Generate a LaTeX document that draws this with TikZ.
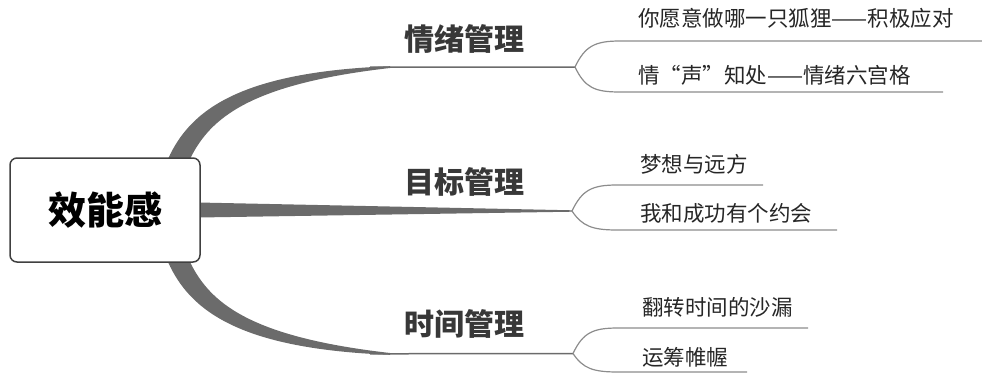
\documentclass[tikz,border=0pt]{standalone}
\usepackage{fontspec}
\newfontfamily\cjk{Noto Sans CJK SC}
\begin{document}
\begin{tikzpicture}[x=1pt,y=-1pt,
  rootbox/.style={draw=black!75, line width=1.5pt, rounded corners=7pt, fill=white,
    minimum width=190pt, minimum height=104pt, inner sep=0pt,
    font=\cjk\bfseries\fontsize{38}{40}\selectfont},
  branchlbl/.style={font=\cjk\bfseries\fontsize{30}{32}\selectfont, text=black!78, inner sep=0pt},
  leaflbl/.style={font=\cjk\fontsize{21.5}{23}\selectfont, text=black!85, inner sep=0pt, anchor=west},
  taper/.style={fill=black!58},
  thinbranch/.style={draw=black!58, line width=1.5pt},
  leafline/.style={draw=black!45, line width=1.2pt}]
\useasboundingbox (0,0) rectangle (982,378);

% fork points and line ends
\coordinate (f1) at (575,67);
\coordinate (f2) at (572,211);
\coordinate (f3) at (573,353.5);
\coordinate (e11) at (982,41);
\coordinate (e12) at (943,92);
\coordinate (e21) at (763,185);
\coordinate (e22) at (837,230);
\coordinate (e31) at (808,328);
\coordinate (e32) at (747,372);

% tapered branches
\fill[taper] (168,159) .. controls (190,110) and (240,72) .. (390,66.2)
  -- (390,68) .. controls (250,84) and (210,118) .. (190,159) -- cycle;
\fill[taper] (198,202.5) -- (572,210.3) -- (572,211.7) -- (198,217.5) -- cycle;
\fill[taper] (168,262) .. controls (190,311) and (240,349) .. (390,354.8)
  -- (390,353) .. controls (250,337) and (210,303) .. (190,262) -- cycle;
\draw[thinbranch] (370,67.2) -- (f1);
\draw[thinbranch] (370,353.8) -- (f3);

% root
\node[rootbox] (root) at (105,210) {效能感};

% branch labels
\node[branchlbl] (b1) at (464,39) {情绪管理};
\node[branchlbl] (b2) at (464,182) {目标管理};
\node[branchlbl] (b3) at (464,324) {时间管理};

% leaf underlines
\draw[leafline] (f1) .. controls +(10,-21) and +(-25,0) .. (620,41) -- (e11);
\draw[leafline] (f1) .. controls +(10,21) and +(-25,0) .. (620,92) -- (e12);
\draw[leafline] (f2) .. controls +(10,-21) and +(-25,0) .. (617,185) -- (e21);
\draw[leafline] (f2) .. controls +(10,15) and +(-25,0) .. (617,230) -- (e22);
\draw[leafline] (f3) .. controls +(10,-21) and +(-25,0) .. (618,328) -- (e31);
\draw[leafline] (f3) .. controls +(10,15) and +(-25,0) .. (618,372) -- (e32);

% leaves
\node[leaflbl] (l11) at (638,18) {你愿意做哪一只狐狸——积极应对};
\node[leaflbl] (l12) at (638,75) {情“声”知处——情绪六宫格};
\node[leaflbl] (l21) at (640,164) {梦想与远方};
\node[leaflbl] (l22) at (640,213) {我和成功有个约会};
\node[leaflbl] (l31) at (642,307) {翻转时间的沙漏};
\node[leaflbl] (l32) at (642,357) {运筹帷幄};
\end{tikzpicture}
\end{document}
